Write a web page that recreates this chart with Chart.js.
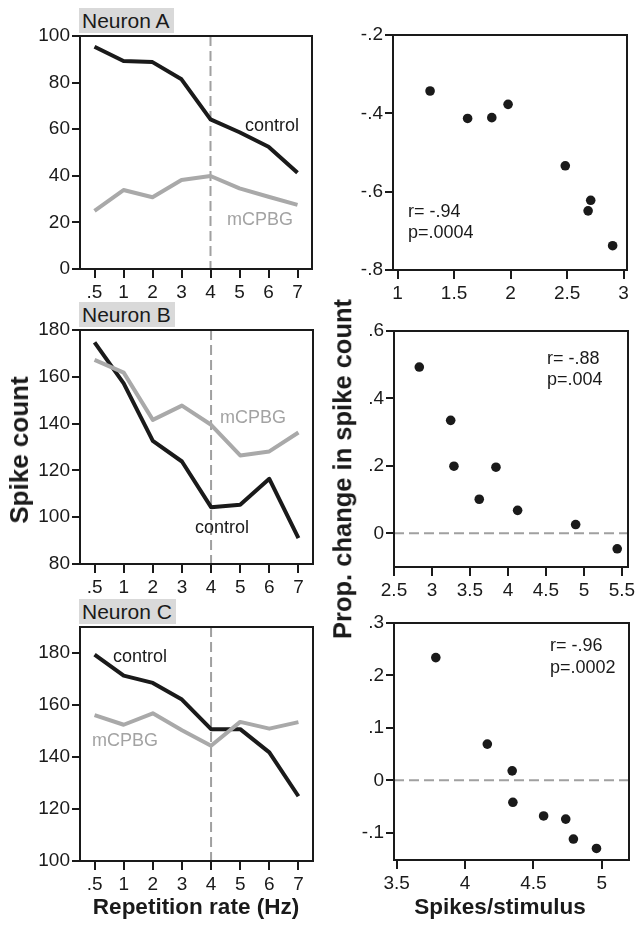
<!DOCTYPE html>
<html>
<head>
<meta charset="utf-8">
<script src="https://cdn.jsdelivr.net/npm/chart.js@4"></script>
<style>
  body { margin: 0; background: #fff; }
  #page { position: relative; width: 642px; height: 925px; font-family: 'Liberation Sans', Arial, sans-serif; color: #1a1a1a; }
  .panel { position: absolute; }
  .txt { position: absolute; white-space: nowrap; line-height: 1; font-size: 18px; transform: translateY(-50%); }
  .gray { color: #a3a3a3; }
  .tag { position: absolute; background: #d9d9d9; font-size: 21px; line-height: 25px; padding: 0 4px 0 3px; }
  .axt { position: absolute; white-space: nowrap; font-weight: bold; line-height: 1; transform: translate(-50%, -50%); }
  .rot { transform: translate(-50%, -50%) rotate(-90deg); }
</style>
</head>
<body>
<div id="page">
  <div class="tag" style="left:79px; top:8px;">Neuron A</div>
  <div class="tag" style="left:79px; top:302px;">Neuron B</div>
  <div class="tag" style="left:79px; top:599px;">Neuron C</div>

  <div class="txt" style="left:245px; top:125px;">control</div>
  <div class="txt gray" style="left:227px; top:219px;">mCPBG</div>
  <div class="txt gray" style="left:220px; top:417px;">mCPBG</div>
  <div class="txt" style="left:195px; top:527px;">control</div>
  <div class="txt" style="left:113px; top:656px;">control</div>
  <div class="txt gray" style="left:92px; top:740px;">mCPBG</div>

  <div class="txt" style="left:408px; top:211px;">r= -.94</div>
  <div class="txt" style="left:408px; top:232px;">p=.0004</div>
  <div class="txt" style="left:547px; top:358px;">r= -.88</div>
  <div class="txt" style="left:547px; top:379px;">p=.004</div>
  <div class="txt" style="left:550px; top:645px;">r= -.96</div>
  <div class="txt" style="left:550px; top:667px;">p=.0002</div>

  <div class="axt rot" style="left:19px; top:450px; font-size:26px;">Spike count</div>
  <div class="axt rot" style="left:343px; top:469px; font-size:25.5px;">Prop. change in spike count</div>
  <div class="axt" style="left:196px; top:907px; font-size:22.5px;">Repetition rate (Hz)</div>
  <div class="axt" style="left:500px; top:907px; font-size:22.5px;">Spikes/stimulus</div>
</div>
<script>
// repetition rate panels (left column)
const rateLabels = ['.5', '1', '2', '3', '4', '5', '6', '7'];
const markRate = '4';
const controlA = [95.4, 89.3, 88.8, 81.4, 64.2, 58.7, 52.5, 41.3];
const mcpbgA = [24.9, 33.9, 30.8, 38.2, 39.9, 34.6, 31.0, 27.5];
const controlB = [174.7, 157.2, 132.6, 123.8, 104.3, 105.3, 116.4, 91.1];
const mcpbgB = [167.2, 161.8, 141.6, 147.7, 139.5, 126.4, 128.1, 136.2];
const controlC = [179.4, 171.3, 168.5, 162.1, 150.7, 150.7, 141.8, 124.9];
const mcpbgC = [156.1, 152.4, 156.8, 150.3, 144.3, 153.5, 150.9, 153.4];
const yTicksA = [0, 20, 40, 60, 80, 100];
const yTicksB = [80, 100, 120, 140, 160, 180];
const yTicksC = [100, 120, 140, 160, 180];

// spikes/stimulus vs proportional change (right column)
const spikesA = [1.288, 1.62, 1.834, 1.978, 2.484, 2.709, 2.686, 2.903];
const changeA = [-0.343, -0.413, -0.411, -0.377, -0.534, -0.622, -0.649, -0.738];
const spikesB = [2.833, 3.246, 3.289, 3.842, 3.622, 4.127, 4.891, 5.438];
const changeB = [0.493, 0.335, 0.199, 0.196, 0.101, 0.068, 0.026, -0.046];
const spikesC = [3.786, 4.163, 4.345, 4.35, 4.575, 4.737, 4.793, 4.962];
const changeC = [0.234, 0.069, 0.018, -0.042, -0.068, -0.074, -0.112, -0.130];
const xTicksRA = [1, 1.5, 2, 2.5, 3];
const yTicksRA = [-0.8, -0.6, -0.4, -0.2];
const xTicksRB = [2.5, 3, 3.5, 4, 4.5, 5, 5.5];
const yTicksRB = [0, 0.2, 0.4, 0.6];
const xTicksRC = [3.5, 4, 4.5, 5];
const yTicksRC = [-0.1, 0, 0.1, 0.2, 0.3];

const FONT = "'Liberation Sans', Arial, sans-serif";
const INK = '#1a1a1a';
const GRAY = '#a9a9a9';
const YW = 60, XH = 40, PADT = 14, PADR = 16;

function fmt(v) {
    const s = String(Math.round(v * 1000) / 1000);
    return s.replace(/^(-?)0\./, '$1.');
}

const framePlugin = {
    id: 'frame',
    afterDraw(chart) {
        const { ctx, chartArea: a } = chart;
        ctx.save();
        ctx.strokeStyle = INK;
        ctx.lineWidth = 2;
        ctx.strokeRect(a.left, a.top, a.right - a.left, a.bottom - a.top);
        ctx.restore();
    }
};

// dashed reference line, vertical (axis 'x') or horizontal (axis 'y')
function dashLine(axis, value) {
    return {
        id: 'dash',
        beforeDatasetsDraw(chart) {
            const { ctx, chartArea: a, scales } = chart;
            ctx.save();
            ctx.strokeStyle = '#a0a0a0';
            ctx.lineWidth = 2;
            ctx.setLineDash([10, 5]);
            ctx.beginPath();
            if (axis === 'x') {
                const x = scales.x.getPixelForValue(value);
                ctx.moveTo(x, a.top);
                ctx.lineTo(x, a.bottom);
            } else {
                const y = scales.y.getPixelForValue(value);
                ctx.moveTo(a.left, y);
                ctx.lineTo(a.right, y);
            }
            ctx.stroke();
            ctx.restore();
        }
    };
}

function axis(opts, ticks, isX, tickLen, pad) {
    const cb = opts.type === 'category' ? (v) => rateLabels[v] : (v) => fmt(v);
    return Object.assign({
        afterBuildTicks: ticks ? (s) => { s.ticks = ticks.map(v => ({ value: v })); } : undefined,
        afterFit: (s) => { if (isX) s.height = XH; else s.width = YW; },
        border: { display: false },
        grid: { drawOnChartArea: false, drawTicks: true, tickLength: tickLen, lineWidth: 2, color: INK, offset: false },
        ticks: { color: INK, font: { family: FONT, size: 19 }, padding: pad, maxRotation: 0, autoSkip: false, callback: cb }
    }, opts);
}

function makePanel(rect, type, data, scales, plugins) {
    const w = YW + (rect.r - rect.l) + PADR;
    const h = PADT + (rect.b - rect.t) + XH;
    const div = document.createElement('div');
    div.className = 'panel';
    div.style.left = (rect.l - YW) + 'px';
    div.style.top = (rect.t - PADT) + 'px';
    const cv = document.createElement('canvas');
    cv.width = w; cv.height = h;
    cv.style.width = w + 'px'; cv.style.height = h + 'px';
    div.appendChild(cv);
    document.getElementById('page').insertBefore(div, document.getElementById('page').firstChild);
    return new Chart(cv, {
        type: type,
        data: data,
        options: {
            responsive: false,
            animation: false,
            devicePixelRatio: 1,
            layout: { padding: { top: PADT, right: PADR, left: 0, bottom: 0 } },
            plugins: { legend: { display: false }, tooltip: { enabled: false } },
            scales: scales
        },
        plugins: plugins.concat([framePlugin])
    });
}

function ratePanel(rect, control, mcpbg, yMin, yMax, yTicks) {
    return makePanel(rect, 'line', {
        labels: rateLabels,
        datasets: [
            { data: mcpbg, borderColor: GRAY, borderWidth: 4, pointRadius: 0, tension: 0, borderJoinStyle: 'round' },
            { data: control, borderColor: INK, borderWidth: 4, pointRadius: 0, tension: 0, borderJoinStyle: 'round' }
        ]
    }, {
        x: axis({ type: 'category', offset: true }, null, true, 9, 3),
        y: axis({ type: 'linear', min: yMin, max: yMax }, yTicks, false, 8, 2)
    }, [dashLine('x', rateLabels.indexOf(markRate))]);
}

function scatterPanel(rect, xs, ys, xMin, xMax, xTicks, yMin, yMax, yTicks, zeroLine) {
    return makePanel(rect, 'scatter', {
        datasets: [{
            data: xs.map((x, i) => ({ x: x, y: ys[i] })),
            backgroundColor: INK, borderColor: INK, borderWidth: 0, pointRadius: 4.8
        }]
    }, {
        x: axis({ type: 'linear', min: xMin, max: xMax }, xTicks, true, 9, 3),
        y: axis({ type: 'linear', min: yMin, max: yMax }, yTicks, false, 8, 2)
    }, zeroLine ? [dashLine('y', 0)] : []);
}

ratePanel({ l: 80, t: 36, r: 312, b: 269 }, controlA, mcpbgA, 0, 100, yTicksA);
ratePanel({ l: 80, t: 330, r: 313, b: 564 }, controlB, mcpbgB, 80, 180, yTicksB);
ratePanel({ l: 80, t: 627, r: 313, b: 861 }, controlC, mcpbgC, 100, 190, yTicksC);

scatterPanel({ l: 393, t: 35, r: 627, b: 270 }, spikesA, changeA, 0.96, 3.03, xTicksRA, -0.8, -0.2, yTicksRA, false);
scatterPanel({ l: 394, t: 331, r: 628, b: 567 }, spikesB, changeB, 2.5, 5.58, xTicksRB, -0.1, 0.6, yTicksRB, true);
scatterPanel({ l: 394, t: 623, r: 629, b: 860 }, spikesC, changeC, 3.48, 5.2, xTicksRC, -0.152, 0.3, yTicksRC, true);
</script>
</body>
</html>
